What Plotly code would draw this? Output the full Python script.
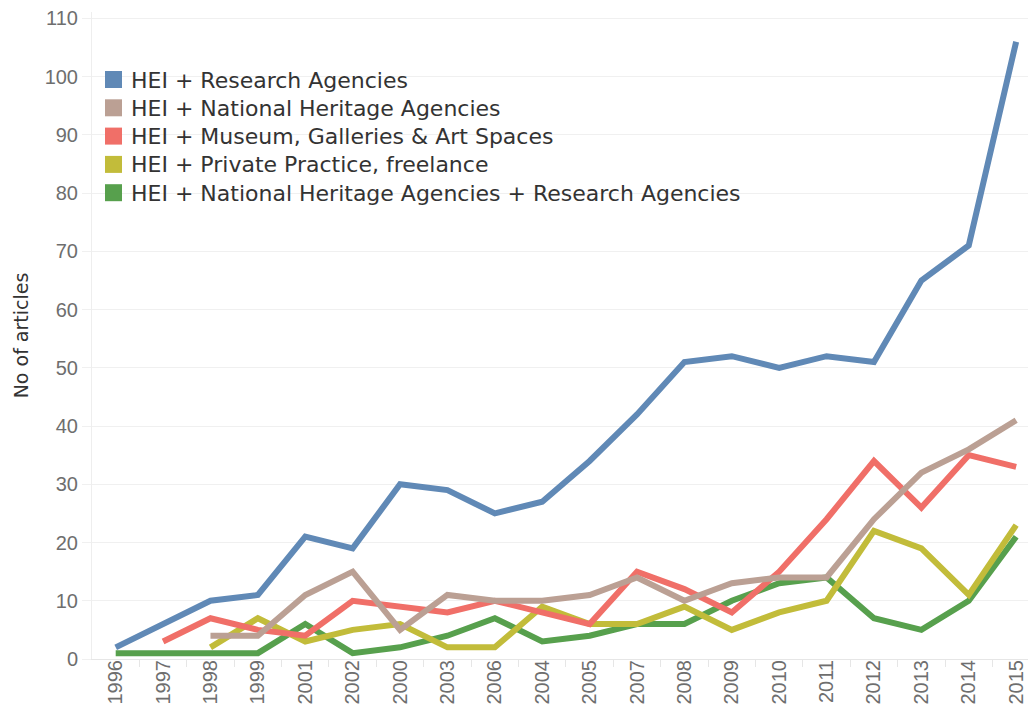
import plotly.graph_objects as go

years = ["1996", "1997", "1998", "1999", "2001", "2002", "2000", "2003", "2006", "2004",
         "2005", "2007", "2008", "2009", "2010", "2011", "2012", "2013", "2014", "2015"]

hei_research = [2, 6, 10, 11, 21, 19, 30, 29, 25, 27, 34, 42, 51, 52, 50, 52, 51, 65, 71, 106]
hei_national = [None, None, 4, 4, 11, 15, 5, 11, 10, 10, 11, 14, 10, 13, 14, 14, 24, 32, 36, 41]
hei_museum = [None, 3, 7, 5, 4, 10, 9, 8, 10, 8, 6, 15, 12, 8, 15, 24, 34, 26, 35, 33]
hei_private = [None, None, 2, 7, 3, 5, 6, 2, 2, 9, 6, 6, 9, 5, 8, 10, 22, 19, 11, 23]
hei_nat_research = [1, 1, 1, 1, 6, 1, 2, 4, 7, 3, 4, 6, 6, 10, 13, 14, 7, 5, 10, 21]

series_names = [
    "HEI + Research Agencies",
    "HEI + National Heritage Agencies",
    "HEI + Museum, Galleries & Art Spaces",
    "HEI + Private Practice, freelance",
    "HEI + National Heritage Agencies + Research Agencies",
]
series_values = [hei_research, hei_national, hei_museum, hei_private, hei_nat_research]
colors = ["#6089b6", "#bba094", "#f06f68", "#c2bc3a", "#57a04d"]

W, H = 1028, 713
ML, MR, MT, MB = 92, 0, 12, 54
PW, PH = W - ML - MR, H - MT - MB


def px_to_paper(px, py):
    return (px - ML) / PW, (H - MB - py) / PH


xs = list(range(len(years)))

fig = go.Figure()

# lines (last series drawn first, first series on top)
for name, vals, col in reversed(list(zip(series_names, series_values, colors))):
    fig.add_trace(go.Scatter(
        x=xs, y=vals, mode="lines", name=name, showlegend=False,
        line=dict(color=col, width=6), connectgaps=False, cliponaxis=False,
        text=years, hovertemplate="%{text}: %{y}<extra>" + name + "</extra>",
    ))

# legend drawn as colour squares + text labels
shapes = []
annotations = []
row_y = [79, 107.3, 135.6, 163.9, 192.2]
for name, col, ry in zip(series_names, colors, row_y):
    x0, y0 = px_to_paper(105, ry + 9)
    x1, y1 = px_to_paper(122, ry - 8)
    shapes.append(dict(type="rect", xref="paper", yref="paper", x0=x0, y0=y0, x1=x1, y1=y1,
                       fillcolor=col, line=dict(width=0), layer="above"))
    tx, ty = px_to_paper(129, ry + 1)
    annotations.append(dict(text=name, xref="paper", yref="paper", x=tx, y=ty,
                            xanchor="left", yanchor="middle", showarrow=False,
                            font=dict(family="DejaVu Sans", size=22, color="#333333")))

fig.update_layout(
    width=W, height=H,
    margin=dict(l=ML, r=MR, t=MT, b=MB),
    paper_bgcolor="white", plot_bgcolor="white",
    font=dict(family="Liberation Sans, Arial, sans-serif", color="#333333"),
    showlegend=False,
    shapes=shapes,
    annotations=annotations,
    xaxis=dict(
        range=[-0.5, 19.25],
        tickmode="array", tickvals=xs, ticktext=years,
        tickangle=-90,
        tickfont=dict(size=20, color="#6e6e6e"),
        ticklabelstandoff=-8,
        showgrid=False, zeroline=False,
        showline=True, linecolor="#e6e6e6", linewidth=1,
        ticks="",
        minor=dict(tickmode="array", tickvals=[i + 0.5 for i in xs],
                   ticks="outside", ticklen=7, tickcolor="#e6e6e6", tickwidth=1),
    ),
    yaxis=dict(
        range=[0, 111.1],
        tickmode="array", tickvals=list(range(0, 111, 10)),
        tickfont=dict(size=20, color="#6e6e6e"),
        showgrid=True, gridcolor="#f0f0f0", gridwidth=1,
        zeroline=False,
        showline=True, linecolor="#eeeeee", linewidth=1,
        ticks="outside", ticklen=9, tickcolor="#f0f0f0",
        title=dict(text="No of articles", font=dict(family="DejaVu Sans", size=19, color="#333333"),
                   standoff=10),
    ),
)

fig.write_html("out.html", config={"displayModeBar": False},
               post_script="document.body.style.margin='0';")
